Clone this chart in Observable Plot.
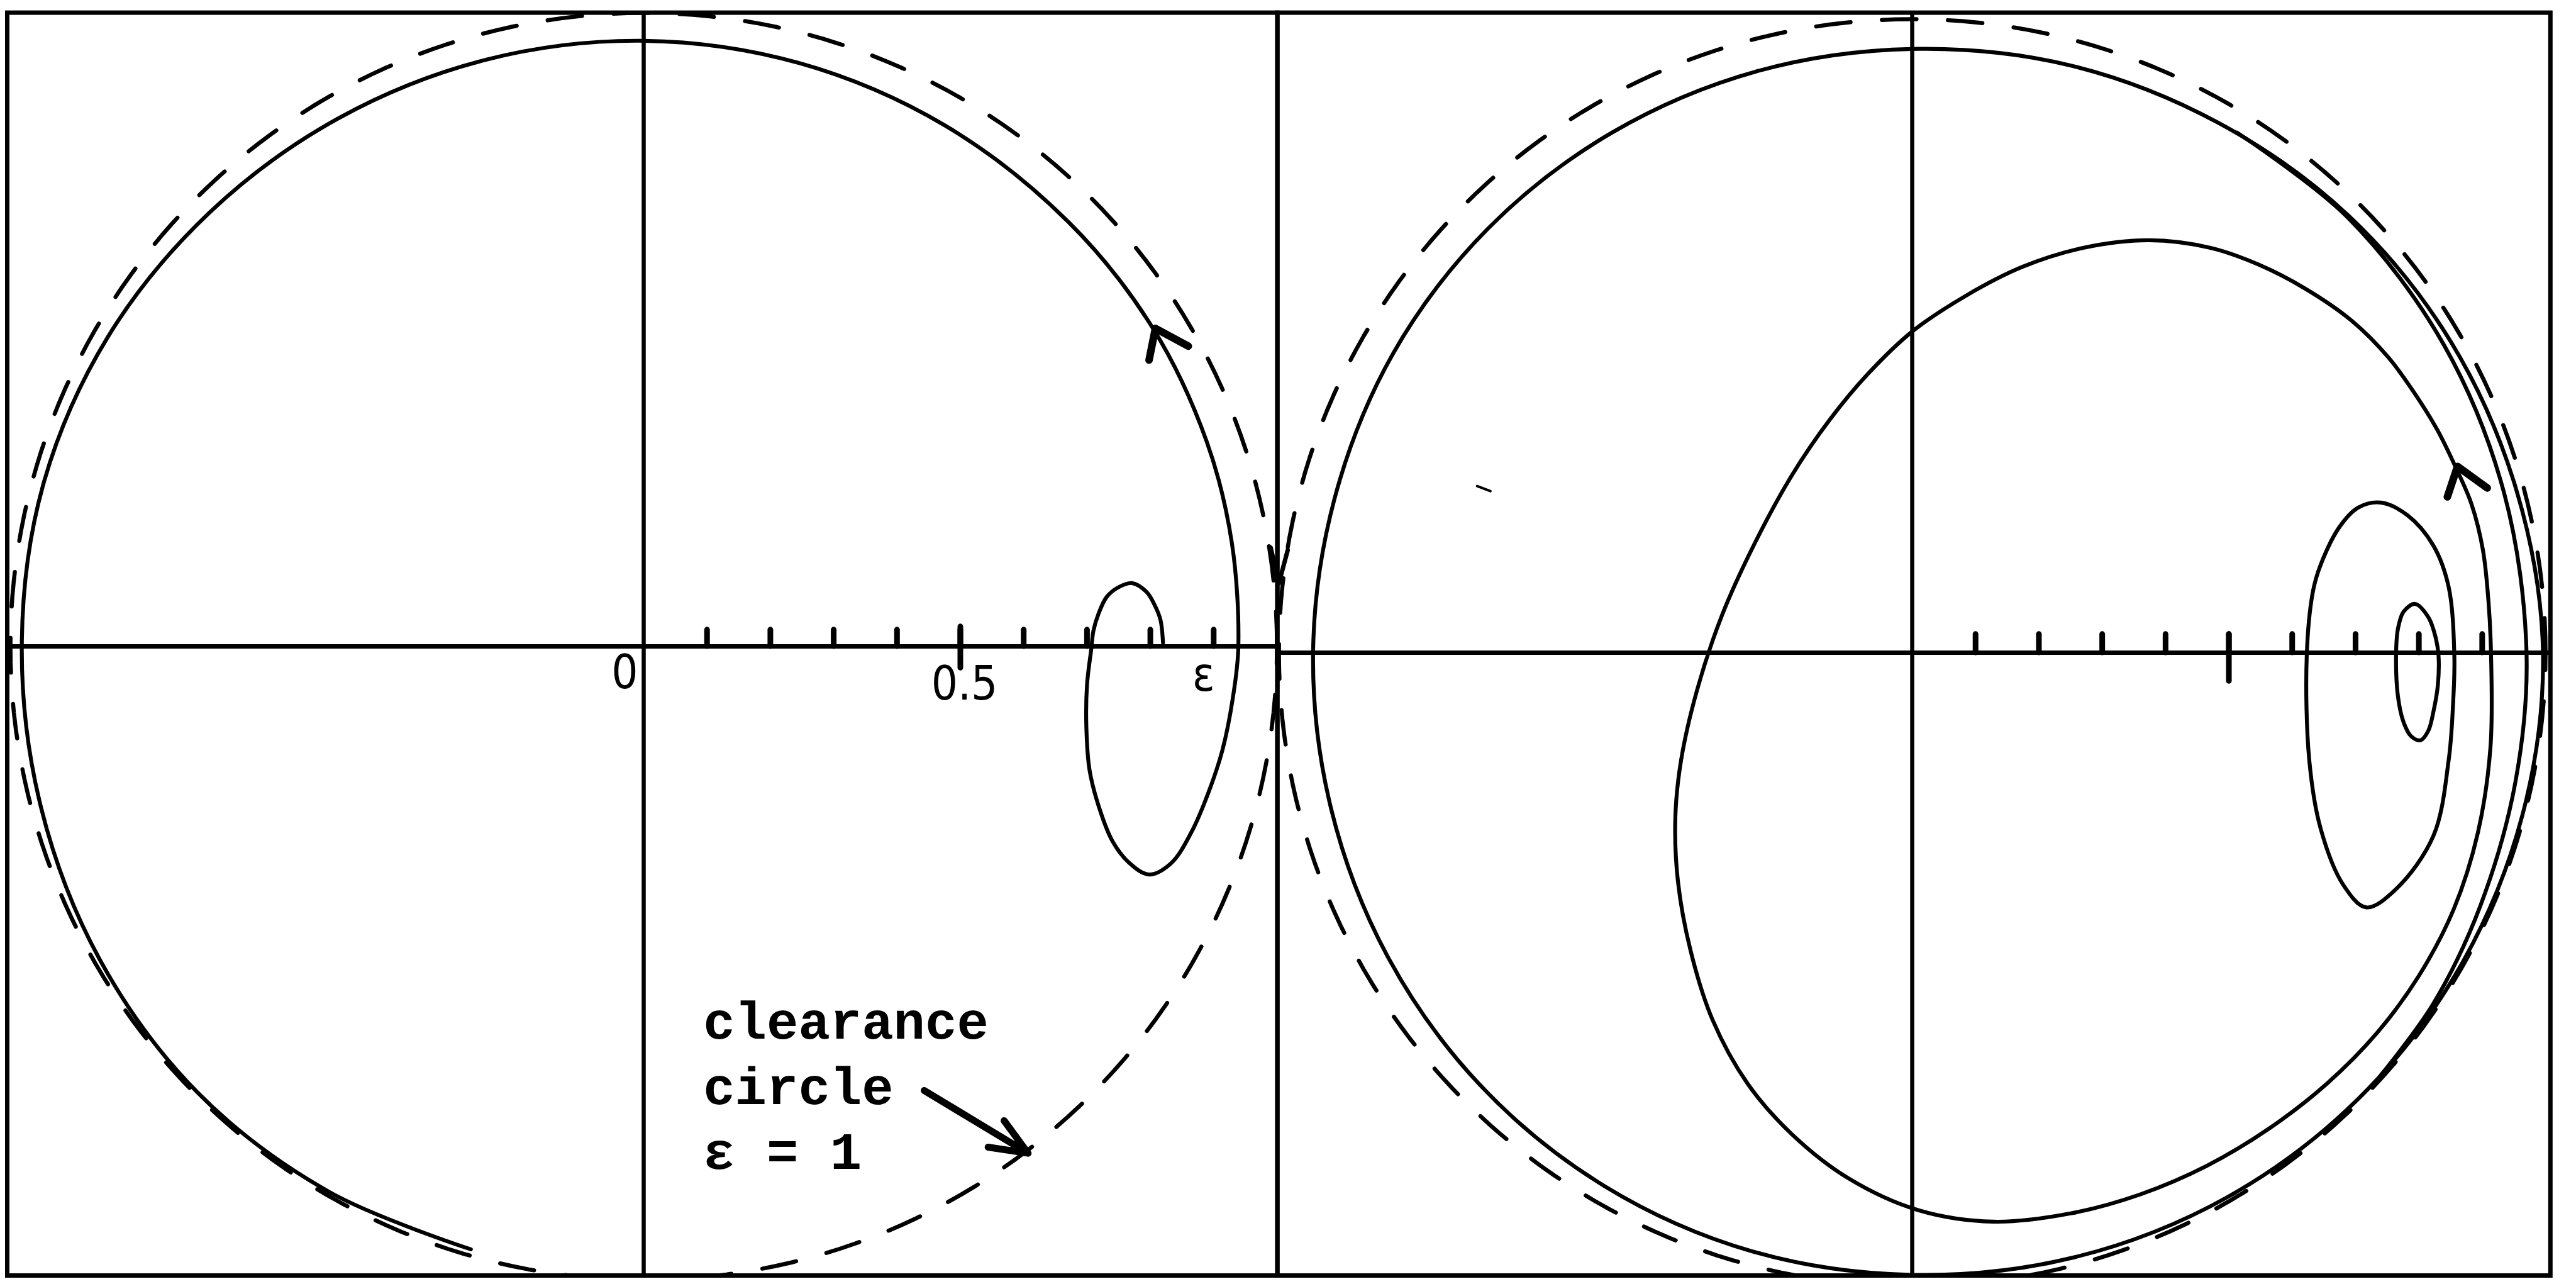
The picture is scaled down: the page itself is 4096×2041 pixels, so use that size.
<!DOCTYPE html>
<html>
<head>
<meta charset="utf-8">
<script src="https://cdn.jsdelivr.net/npm/d3@7"></script>
<script src="https://cdn.jsdelivr.net/npm/@observablehq/plot@0.6"></script>
<style>
  html, body { margin: 0; padding: 0; background: #fff; }
  #fig { position: relative; width: 4096px; height: 2041px; overflow: hidden; background: #fff; }
  #fig svg { position: absolute; top: 0; }
</style>
</head>
<body>
<div id="fig"></div>
<script>
// Eccentricity ticks along the horizontal axis of both diagrams
const axisTicks = [0.1, 0.2, 0.3, 0.4, 0.5, 0.6, 0.7, 0.8, 0.9];
const majorTick = [0.5];
const clearanceRadius = 1;

// Left diagram, inner part of the path (x, y): starts near ε and loops round
const leftOrbitStart = [
  [0.820, 0.006], [0.816, 0.042], [0.807, 0.065], [0.794, 0.086], [0.771, 0.100],
  [0.749, 0.093], [0.731, 0.078], [0.718, 0.051], [0.710, 0.024], [0.707, -0.002],
  [0.700, -0.061], [0.699, -0.128], [0.704, -0.195], [0.720, -0.257], [0.740, -0.307],
  [0.767, -0.342], [0.798, -0.360], [0.833, -0.342], [0.865, -0.293], [0.892, -0.230],
  [0.914, -0.163], [0.930, -0.083]
];
// Left diagram, outer sweep as (angle in degrees, radius), ending on the clearance circle
const leftOrbitSweep = [
  [0, 0.939], [10, 0.943], [20, 0.946], [32, 0.948], [45, 0.948], [60, 0.950],
  [75, 0.953], [90, 0.956], [105, 0.959], [120, 0.963], [135, 0.969], [150, 0.977],
  [165, 0.982], [180, 0.982], [195, 0.985], [210, 0.991], [225, 0.996], [240, 0.994],
  [254, 0.990]
];
const leftArrowHead = [[0.798, 0.452], [0.808, 0.502], [0.860, 0.474]];

// Right diagram: nested loops around ε (x, y)
const rightSmallLoop = [
  [0.794, 0.077], [0.815, 0.056], [0.826, 0.026], [0.831, -0.004], [0.830, -0.051],
  [0.823, -0.093], [0.815, -0.123], [0.803, -0.138], [0.788, -0.132], [0.776, -0.110],
  [0.767, -0.069], [0.764, -0.004], [0.767, 0.038], [0.776, 0.065]
];
const rightMediumLoop = [
  [0.740, 0.237], [0.782, 0.217], [0.823, 0.169], [0.847, 0.104], [0.856, -0.004],
  [0.854, -0.081], [0.847, -0.170], [0.823, -0.289], [0.764, -0.373], [0.717, -0.402],
  [0.681, -0.367], [0.645, -0.278], [0.627, -0.170], [0.623, -0.004], [0.633, 0.098],
  [0.645, 0.139], [0.675, 0.199], [0.704, 0.229]
];
const rightTiltedLoop = [
  [0.914, -0.004], [0.910, 0.080], [0.901, 0.163], [0.883, 0.235], [0.858, 0.293],
  [0.829, 0.352], [0.793, 0.410], [0.752, 0.466], [0.694, 0.524], [0.620, 0.575],
  [0.546, 0.613], [0.471, 0.639], [0.374, 0.651], [0.270, 0.639], [0.174, 0.609],
  [0.084, 0.563], [0.000, 0.507], [-0.070, 0.440], [-0.130, 0.368], [-0.190, 0.280],
  [-0.250, 0.170], [-0.300, 0.060], [-0.340, -0.060], [-0.365, -0.170], [-0.374, -0.260],
  [-0.370, -0.360], [-0.350, -0.470], [-0.315, -0.580], [-0.260, -0.680], [-0.190, -0.760],
  [-0.100, -0.830], [0.010, -0.880], [0.128, -0.898], [0.250, -0.885], [0.360, -0.855],
  [0.465, -0.810], [0.565, -0.750], [0.655, -0.680], [0.734, -0.600], [0.800, -0.510],
  [0.855, -0.405], [0.893, -0.285], [0.913, -0.150]
];
// Right diagram, outer whirl as (angle in degrees, radius)
const rightOuterOrbit = [
  [0, 0.996], [15, 0.988], [30, 0.982], [45, 0.975], [60, 0.966], [75, 0.960],
  [90, 0.953], [105, 0.950], [120, 0.948], [135, 0.947], [150, 0.946], [165, 0.944],
  [180, 0.946], [195, 0.950], [210, 0.957], [225, 0.965], [240, 0.972], [255, 0.978],
  [270, 0.982], [285, 0.988], [300, 0.993], [315, 0.996], [330, 0.997], [345, 0.997]
];
const rightInnerBranch = [
  [58, 0.968], [45, 0.972], [30, 0.970], [15, 0.968], [0, 0.970], [-12, 0.974],
  [-24, 0.982], [-34, 0.992], [-42, 0.996]
];
const rightArrowHead = [[0.845, 0.246], [0.861, 0.294], [0.908, 0.260]];
const rightSpeck = [[-0.687, 0.263], [-0.666, 0.255]];

// Small arrow mark on the shared edge where the two clearance circles meet
const edgeMark = [[-1.013, 0.166], [-1.000, 0.110], [-0.986, 0.162]];

// Annotation
const axisLabels = [
  {x: -0.030, y: -0.0665, text: "0"},
  {x: 0.5065, y: -0.0834, text: "0.5"},
  {x: 0.884, y: -0.070, text: "ε"}
];
const clearanceNote = [{x: 0.094, y: -0.825, text: "clearance\ncircle\nε = 1"}];
const clearancePointer = [{x1: 0.443, y1: -0.701, x2: 0.607, y2: -0.800}];

// Polar readings to plane coordinates
const rad = Math.PI / 180;
const toXY = ([deg, r]) => [r * Math.cos(deg * rad), r * Math.sin(deg * rad)];

const leftOrbit = leftOrbitStart.concat(leftOrbitSweep.map(toXY));
const clearanceCircle = d3.range(0, 360, 1.5).map(a => toXY([a, clearanceRadius]));

const ink = "#000";
const xy = {x: d => d[0], y: d => d[1]};
const curve = {...xy, stroke: ink, strokeWidth: 6.2, strokeLinejoin: "round", strokeLinecap: "round", clip: true};

function diagram({width, marginLeft, marginRight, xDomain, yDomain, minorLen, majorUp, majorDown, marks}) {
  return Plot.plot({
    width,
    height: 2041,
    marginLeft,
    marginRight,
    marginTop: 19.6,
    marginBottom: 14,
    x: {domain: xDomain, axis: null},
    y: {domain: yDomain, axis: null},
    style: {background: "transparent", overflow: "visible"},
    marks: [
      Plot.line(clearanceCircle, {...xy, curve: "linear-closed", stroke: ink, strokeWidth: 6.5, strokeDasharray: "55,50", strokeLinecap: "round", clip: true}),
      Plot.ruleY([0], {stroke: ink, strokeWidth: 7}),
      Plot.ruleX([0], {stroke: ink, strokeWidth: 6.5}),
      Plot.ruleX(axisTicks, {x: d => d, y1: 0, y2: minorLen, stroke: ink, strokeWidth: 9, strokeLinecap: "round"}),
      Plot.ruleX(majorTick, {x: d => d, y1: -majorDown, y2: majorUp, stroke: ink, strokeWidth: 9, strokeLinecap: "round"}),
      ...marks,
      Plot.frame({stroke: ink, strokeWidth: 7})
    ]
  });
}

const left = diagram({
  width: 2040,
  marginLeft: 11,
  marginRight: 9.4,
  xDomain: [-1.005, 1.0006],
  yDomain: [-0.993, 1.0004],
  minorLen: 0.026,
  majorUp: 0.031,
  majorDown: 0.034,
  marks: [
    Plot.line(leftOrbit, {...curve, curve: "catmull-rom"}),
    Plot.line(leftArrowHead, {...xy, stroke: ink, strokeWidth: 12, strokeLinecap: "round", strokeLinejoin: "round"}),
    Plot.text(axisLabels, {x: "x", y: "y", text: "text", fontSize: 74, fontFamily: "DejaVu Sans Condensed", textAnchor: "middle", lineAnchor: "bottom", fill: ink}),
    Plot.text(clearanceNote, {x: "x", y: "y", text: "text", fontSize: 84, lineHeight: 1.232, fontFamily: "Liberation Mono", fontWeight: "bold", textAnchor: "start", lineAnchor: "bottom", fill: ink}),
    Plot.arrow(clearancePointer, {x1: "x1", y1: "y1", x2: "x2", y2: "y2", stroke: ink, strokeWidth: 11, headLength: 34, headAngle: 45})
  ]
});

const right = diagram({
  width: 2070,
  marginLeft: 4.6,
  marginRight: 41.2,
  xDomain: [-1.0024, 1.0077],
  yDomain: [-0.983, 1.0103],
  minorLen: 0.029,
  majorUp: 0.029,
  majorDown: 0.045,
  marks: [
    Plot.line(rightSmallLoop, {...curve, curve: "catmull-rom-closed"}),
    Plot.line(rightMediumLoop, {...curve, curve: "catmull-rom-closed"}),
    Plot.line(rightTiltedLoop, {...curve, curve: "catmull-rom-closed"}),
    Plot.line(rightOuterOrbit.map(toXY), {...curve, curve: "catmull-rom-closed"}),
    Plot.line(rightInnerBranch.map(toXY), {...curve, curve: "catmull-rom"}),
    Plot.line(rightArrowHead, {...xy, stroke: ink, strokeWidth: 12, strokeLinecap: "round", strokeLinejoin: "round"}),
    Plot.line(rightSpeck, {...xy, stroke: ink, strokeWidth: 4, strokeLinecap: "round"}),
    Plot.line(edgeMark, {...xy, stroke: ink, strokeWidth: 7, strokeLinecap: "round", strokeLinejoin: "round"})
  ]
});

const fig = document.getElementById("fig");
left.style.left = "0px";
right.style.left = "2026px";
fig.appendChild(left);
fig.appendChild(right);
</script>
</body>
</html>
